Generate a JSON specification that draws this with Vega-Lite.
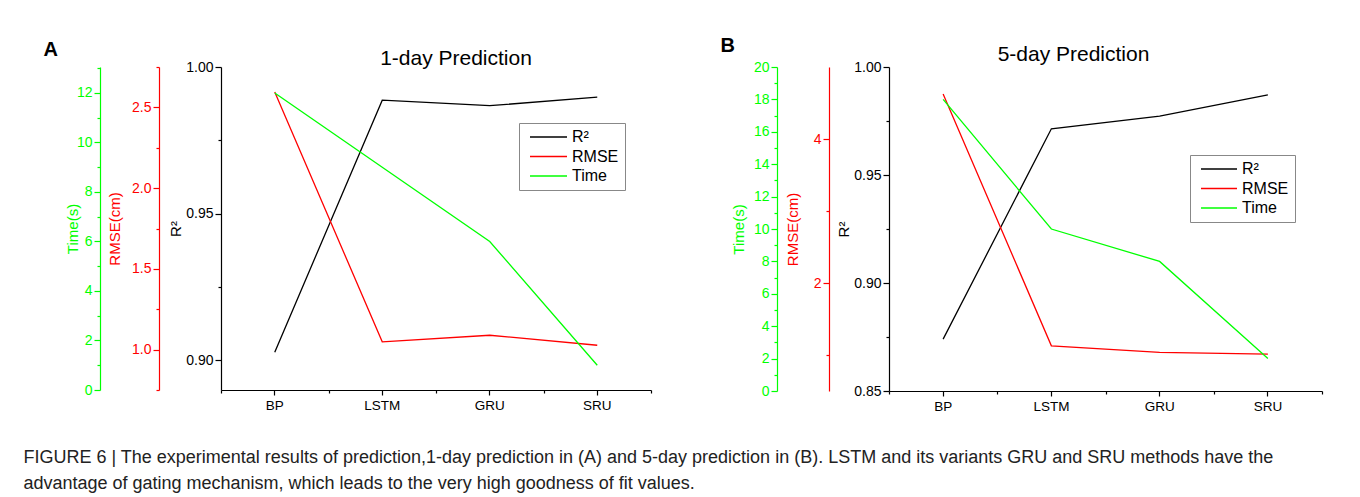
{
  "$schema": "https://vega.github.io/schema/vega-lite/v6.json",
  "padding": {"left": 23, "top": 36, "right": 5, "bottom": 0},
  "datasets": {
    "pred": [
      {"panel": "A", "model": "BP", "series": "R²", "value": 0.9027},
      {"panel": "A", "model": "LSTM", "series": "R²", "value": 0.9887},
      {"panel": "A", "model": "GRU", "series": "R²", "value": 0.9868},
      {"panel": "A", "model": "SRU", "series": "R²", "value": 0.9897},
      {"panel": "A", "model": "BP", "series": "RMSE", "value": 2.595},
      {"panel": "A", "model": "LSTM", "series": "RMSE", "value": 1.048},
      {"panel": "A", "model": "GRU", "series": "RMSE", "value": 1.089},
      {"panel": "A", "model": "SRU", "series": "RMSE", "value": 1.027},
      {"panel": "A", "model": "BP", "series": "Time", "value": 12.0},
      {"panel": "A", "model": "LSTM", "series": "Time", "value": 9.0},
      {"panel": "A", "model": "GRU", "series": "Time", "value": 6.0},
      {"panel": "A", "model": "SRU", "series": "Time", "value": 1.0},
      {"panel": "B", "model": "BP", "series": "R²", "value": 0.874},
      {"panel": "B", "model": "LSTM", "series": "R²", "value": 0.9714},
      {"panel": "B", "model": "GRU", "series": "R²", "value": 0.9773},
      {"panel": "B", "model": "SRU", "series": "R²", "value": 0.9871},
      {"panel": "B", "model": "BP", "series": "RMSE", "value": 4.626},
      {"panel": "B", "model": "LSTM", "series": "RMSE", "value": 1.128},
      {"panel": "B", "model": "GRU", "series": "RMSE", "value": 1.036},
      {"panel": "B", "model": "SRU", "series": "RMSE", "value": 1.012},
      {"panel": "B", "model": "BP", "series": "Time", "value": 18.0},
      {"panel": "B", "model": "LSTM", "series": "Time", "value": 10.0},
      {"panel": "B", "model": "GRU", "series": "Time", "value": 8.0},
      {"panel": "B", "model": "SRU", "series": "Time", "value": 2.0}
    ]
  },
  "title": {
    "text": [
      "FIGURE 6 | The experimental results of prediction,1-day prediction in (A) and 5-day prediction in (B). LSTM and its variants GRU and SRU methods have the",
      "advantage of gating mechanism, which leads to the very high goodness of fit values."
    ],
    "orient": "bottom",
    "anchor": "start",
    "frame": "bounds",
    "fontSize": 18,
    "fontWeight": "normal",
    "lineHeight": 26,
    "offset": 36,
    "dx": -20,
    "color": "#222222"
  },
  "spacing": 68,
  "resolve": {"scale": {"color": "independent"}, "legend": {"color": "independent"}},
  "hconcat": [
    {
      "title": {"text": "A", "anchor": "start", "frame": "bounds", "fontSize": 20, "fontWeight": "bold", "offset": -12, "dx": -22, "color": "#000000"},
      "resolve": {"scale": {"color": "independent"}, "legend": {"color": "independent"}},
      "vconcat": [
        {
          "width": 430,
          "height": 323,
          "title": {"text": "1-day Prediction", "anchor": "middle", "frame": "group", "fontSize": 21, "fontWeight": "normal", "dx": 20, "offset": -26, "baseline": "alphabetic", "color": "#000000"},
          "data": {"name": "pred"},
          "transform": [{"filter": "datum.panel == 'A'"}],
          "resolve": {"scale": {"y": "independent"}, "axis": {"y": "independent", "x": "independent"}},
          "layer": [
            {
              "transform": [{"filter": "datum.series == 'R²'"}],
              "mark": {"type": "line", "strokeWidth": 1.3},
              "encoding": {
                "x": {"field": "model", "type": "nominal", "sort": ["BP", "LSTM", "GRU", "SRU"], "bandPosition": 0.5,
                  "scale": {"type": "band", "paddingInner": 0, "paddingOuter": 0},
                  "axis": {"orient": "bottom", "title": null, "labelAngle": 0, "tickSize": 5, "labelFontSize": 13.5, "labelPadding": 3, "domainColor": "#000000", "tickColor": "#000000", "labelColor": "#000000"}},
                "y": {"field": "value", "type": "quantitative", "scale": {"domain": [0.8898, 1.0], "zero": false, "nice": false},
                  "axis": {"orient": "left", "offset": 0, "title": "R²", "titleColor": "#000000", "titlePadding": 2,
                    "values": [0.9, 0.925, 0.95, 0.975, 1.0],
                    "labelExpr": "abs(datum.value*20-round(datum.value*20))<0.01 ? format(datum.value,'.2f') : ''",
                    "tickSize": {"condition": {"test": "abs(datum.value*20-round(datum.value*20))<0.01", "value": 6}, "value": 3},
                    "labelPadding": 2, "domainColor": "#000000", "tickColor": "#000000", "labelColor": "#000000"}},
                "color": {"field": "series", "type": "nominal", "scale": {"domain": ["R²", "RMSE", "Time"], "range": ["#000000", "#ff0000", "#00ff00"]},
                  "legend": {"title": null, "orient": "none", "legendX": 298, "legendY": 56, "symbolType": "stroke", "symbolSize": 1369, "clipHeight": 16, "symbolStrokeWidth": 1.3, "labelFontSize": 16, "padding": 6, "rowPadding": 3.5, "symbolOffset": 4, "labelOffset": 4, "strokeColor": "#888888", "fillColor": "#ffffff"}}
              }
            },
            {
              "transform": [{"filter": "datum.series == 'RMSE'"}],
              "mark": {"type": "line", "strokeWidth": 1.3},
              "encoding": {
                "x": {"field": "model", "type": "nominal", "sort": ["BP", "LSTM", "GRU", "SRU"], "bandPosition": 0.5,
                  "scale": {"type": "band", "paddingInner": 0, "paddingOuter": 0},
                  "axis": {"orient": "bottom", "title": null, "labels": false, "domain": false, "tickBand": "extent", "tickSize": 3, "tickColor": "#000000"}},
                "y": {"field": "value", "type": "quantitative", "scale": {"domain": [0.75, 2.75], "zero": false, "nice": false},
                  "axis": {"orient": "left", "offset": 62, "title": "RMSE(cm)", "titleColor": "#ff0000", "titlePadding": 9,
                    "values": [0.75, 1.0, 1.25, 1.5, 1.75, 2.0, 2.25, 2.5, 2.75],
                    "labelExpr": "abs(datum.value*2-round(datum.value*2))<0.01 ? format(datum.value,'.1f') : ''",
                    "tickSize": {"condition": {"test": "abs(datum.value*2-round(datum.value*2))<0.01", "value": 6}, "value": 3},
                    "labelPadding": 2, "domainColor": "#ff0000", "tickColor": "#ff0000", "labelColor": "#ff0000"}},
                "color": {"field": "series", "type": "nominal", "scale": {"domain": ["R²", "RMSE", "Time"], "range": ["#000000", "#ff0000", "#00ff00"]},
                  "legend": {"title": null, "orient": "none", "legendX": 298, "legendY": 56, "symbolType": "stroke", "symbolSize": 1369, "clipHeight": 16, "symbolStrokeWidth": 1.3, "labelFontSize": 16, "padding": 6, "rowPadding": 3.5, "symbolOffset": 4, "labelOffset": 4, "strokeColor": "#888888", "fillColor": "#ffffff"}}
              }
            },
            {
              "transform": [{"filter": "datum.series == 'Time'"}],
              "mark": {"type": "line", "strokeWidth": 1.3},
              "encoding": {
                "x": {"field": "model", "type": "nominal", "sort": ["BP", "LSTM", "GRU", "SRU"], "bandPosition": 0.5,
                  "scale": {"type": "band", "paddingInner": 0, "paddingOuter": 0}, "axis": null},
                "y": {"field": "value", "type": "quantitative", "scale": {"domain": [0, 13.05], "zero": false, "nice": false},
                  "axis": {"orient": "left", "offset": 121, "title": "Time(s)", "titleColor": "#00ff00", "titlePadding": -4,
                    "values": [0, 1, 2, 3, 4, 5, 6, 7, 8, 9, 10, 11, 12, 13],
                    "labelExpr": "datum.value % 2 == 0 ? format(datum.value,'d') : ''",
                    "tickSize": {"condition": {"test": "datum.value % 2 == 0", "value": 6}, "value": 3},
                    "labelPadding": 2, "domainColor": "#00ff00", "tickColor": "#00ff00", "labelColor": "#00ff00"}},
                "color": {"field": "series", "type": "nominal", "scale": {"domain": ["R²", "RMSE", "Time"], "range": ["#000000", "#ff0000", "#00ff00"]},
                  "legend": {"title": null, "orient": "none", "legendX": 298, "legendY": 56, "symbolType": "stroke", "symbolSize": 1369, "clipHeight": 16, "symbolStrokeWidth": 1.3, "labelFontSize": 16, "padding": 6, "rowPadding": 3.5, "symbolOffset": 4, "labelOffset": 4, "strokeColor": "#888888", "fillColor": "#ffffff"}}
              }
            }
          ]
        }
      ]
    },
    {
      "title": {"text": "B", "anchor": "start", "frame": "bounds", "fontSize": 20, "fontWeight": "bold", "offset": -12, "dx": -11, "color": "#000000"},
      "resolve": {"scale": {"color": "independent"}, "legend": {"color": "independent"}},
      "vconcat": [
        {
          "width": 433,
          "height": 324,
          "title": {"text": "5-day Prediction", "anchor": "middle", "frame": "group", "fontSize": 21, "fontWeight": "normal", "dx": -32, "offset": -22, "baseline": "alphabetic", "color": "#000000"},
          "data": {"name": "pred"},
          "transform": [{"filter": "datum.panel == 'B'"}],
          "resolve": {"scale": {"y": "independent"}, "axis": {"y": "independent", "x": "independent"}},
          "layer": [
            {
              "transform": [{"filter": "datum.series == 'R²'"}],
              "mark": {"type": "line", "strokeWidth": 1.3},
              "encoding": {
                "x": {"field": "model", "type": "nominal", "sort": ["BP", "LSTM", "GRU", "SRU"], "bandPosition": 0.5,
                  "scale": {"type": "band", "paddingInner": 0, "paddingOuter": 0},
                  "axis": {"orient": "bottom", "title": null, "labelAngle": 0, "tickSize": 5, "labelFontSize": 13.5, "labelPadding": 3, "domainColor": "#000000", "tickColor": "#000000", "labelColor": "#000000"}},
                "y": {"field": "value", "type": "quantitative", "scale": {"domain": [0.85, 1.0], "zero": false, "nice": false},
                  "axis": {"orient": "left", "offset": 0, "title": "R²", "titleColor": "#000000", "titlePadding": 2,
                    "values": [0.85, 0.875, 0.9, 0.925, 0.95, 0.975, 1.0],
                    "labelExpr": "abs(datum.value*20-round(datum.value*20))<0.01 ? format(datum.value,'.2f') : ''",
                    "tickSize": {"condition": {"test": "abs(datum.value*20-round(datum.value*20))<0.01", "value": 6}, "value": 3},
                    "labelPadding": 2, "domainColor": "#000000", "tickColor": "#000000", "labelColor": "#000000"}},
                "color": {"field": "series", "type": "nominal", "scale": {"domain": ["R²", "RMSE", "Time"], "range": ["#000000", "#ff0000", "#00ff00"]},
                  "legend": {"title": null, "orient": "none", "legendX": 301, "legendY": 88, "symbolType": "stroke", "symbolSize": 1296, "clipHeight": 16, "symbolStrokeWidth": 1.3, "labelFontSize": 16, "padding": 6, "rowPadding": 3.5, "symbolOffset": 4, "labelOffset": 4, "strokeColor": "#888888", "fillColor": "#ffffff"}}
              }
            },
            {
              "transform": [{"filter": "datum.series == 'RMSE'"}],
              "mark": {"type": "line", "strokeWidth": 1.3},
              "encoding": {
                "x": {"field": "model", "type": "nominal", "sort": ["BP", "LSTM", "GRU", "SRU"], "bandPosition": 0.5,
                  "scale": {"type": "band", "paddingInner": 0, "paddingOuter": 0},
                  "axis": {"orient": "bottom", "title": null, "labels": false, "domain": false, "tickBand": "extent", "tickSize": 3, "tickColor": "#000000"}},
                "y": {"field": "value", "type": "quantitative", "scale": {"domain": [0.5, 5.0], "zero": false, "nice": false},
                  "axis": {"orient": "left", "offset": 60, "title": "RMSE(cm)", "titleColor": "#ff0000", "titlePadding": 13,
                    "values": [1, 2, 3, 4],
                    "labelExpr": "datum.value % 2 == 0 ? format(datum.value,'d') : ''",
                    "tickSize": {"condition": {"test": "datum.value % 2 == 0", "value": 6}, "value": 3},
                    "labelPadding": 2, "domainColor": "#ff0000", "tickColor": "#ff0000", "labelColor": "#ff0000"}},
                "color": {"field": "series", "type": "nominal", "scale": {"domain": ["R²", "RMSE", "Time"], "range": ["#000000", "#ff0000", "#00ff00"]},
                  "legend": {"title": null, "orient": "none", "legendX": 301, "legendY": 88, "symbolType": "stroke", "symbolSize": 1296, "clipHeight": 16, "symbolStrokeWidth": 1.3, "labelFontSize": 16, "padding": 6, "rowPadding": 3.5, "symbolOffset": 4, "labelOffset": 4, "strokeColor": "#888888", "fillColor": "#ffffff"}}
              }
            },
            {
              "transform": [{"filter": "datum.series == 'Time'"}],
              "mark": {"type": "line", "strokeWidth": 1.3},
              "encoding": {
                "x": {"field": "model", "type": "nominal", "sort": ["BP", "LSTM", "GRU", "SRU"], "bandPosition": 0.5,
                  "scale": {"type": "band", "paddingInner": 0, "paddingOuter": 0}, "axis": null},
                "y": {"field": "value", "type": "quantitative", "scale": {"domain": [0, 20], "zero": false, "nice": false},
                  "axis": {"orient": "left", "offset": 112, "title": "Time(s)", "titleColor": "#00ff00", "titlePadding": 7,
                    "values": [0, 1, 2, 3, 4, 5, 6, 7, 8, 9, 10, 11, 12, 13, 14, 15, 16, 17, 18, 19, 20],
                    "labelExpr": "datum.value % 2 == 0 ? format(datum.value,'d') : ''",
                    "tickSize": {"condition": {"test": "datum.value % 2 == 0", "value": 6}, "value": 3},
                    "labelPadding": 2, "domainColor": "#00ff00", "tickColor": "#00ff00", "labelColor": "#00ff00"}},
                "color": {"field": "series", "type": "nominal", "scale": {"domain": ["R²", "RMSE", "Time"], "range": ["#000000", "#ff0000", "#00ff00"]},
                  "legend": {"title": null, "orient": "none", "legendX": 301, "legendY": 88, "symbolType": "stroke", "symbolSize": 1296, "clipHeight": 16, "symbolStrokeWidth": 1.3, "labelFontSize": 16, "padding": 6, "rowPadding": 3.5, "symbolOffset": 4, "labelOffset": 4, "strokeColor": "#888888", "fillColor": "#ffffff"}}
              }
            }
          ]
        }
      ]
    }
  ],
  "config": {
    "font": "Liberation Sans",
    "view": {"stroke": null},
    "axis": {"labelFont": "Liberation Sans", "titleFont": "Liberation Sans", "titleFontWeight": "normal", "grid": false, "domainWidth": 1.2, "tickWidth": 1.2, "labelFontSize": 14, "titleFontSize": 15},
    "legend": {"labelFont": "Liberation Sans", "labelColor": "#000000"},
    "title": {"font": "Liberation Sans"}
  }
}
